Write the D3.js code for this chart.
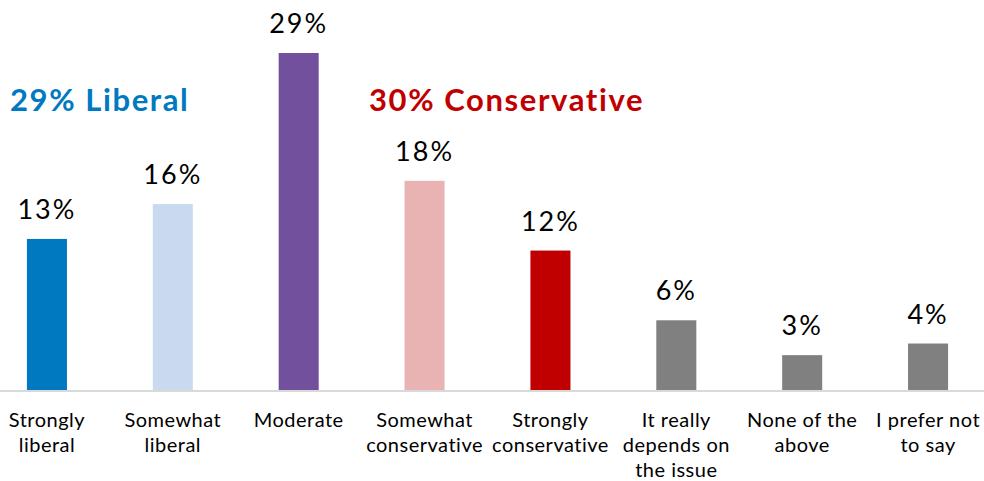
<!DOCTYPE html>
<html>
<head>
<meta charset="utf-8">
<script src="https://cdnjs.cloudflare.com/ajax/libs/d3/7.8.5/d3.min.js"></script>
<style>
  html, body { margin: 0; padding: 0; background: #fff; }
  svg { display: block; }
  text { font-family: Lato, "Open Sans", sans-serif; }
</style>
</head>
<body>
<svg id="chart" width="984" height="481"></svg>
<script>
// Political self-identification, share of respondents (%)
const categories = [
  "Strongly liberal", "Somewhat liberal", "Moderate", "Somewhat conservative",
  "Strongly conservative", "It really depends on the issue", "None of the above", "I prefer not to say"
];
const tickLines = [
  ["Strongly", "liberal"],
  ["Somewhat", "liberal"],
  ["Moderate"],
  ["Somewhat", "conservative"],
  ["Strongly", "conservative"],
  ["It really", "depends on", "the issue"],
  ["None of the", "above"],
  ["I prefer not", "to say"]
];
const values = [13, 16, 29, 18, 12, 6, 3, 4];
const barColors = ["#0079C1", "#C9DAF0", "#72509E", "#E9B3B3", "#C00000", "#808080", "#808080", "#808080"];
const groupLabels = [
  { text: "29% Liberal", color: "#0079C1" },
  { text: "30% Conservative", color: "#C00000" }
];

const svg = d3.select("#chart");
const baseY = 390;

const x = d3.scaleBand()
  .domain(categories)
  .range([-16, 991])
  .paddingInner(0.682)
  .paddingOuter(0.341);

const y = d3.scaleLinear()
  .domain([0, 29])
  .range([baseY, 53]);

// bars
svg.append("g").selectAll("rect")
  .data(values)
  .join("rect")
  .attr("x", (d, i) => x(categories[i]))
  .attr("y", d => y(d))
  .attr("width", x.bandwidth())
  .attr("height", d => baseY - y(d))
  .attr("fill", (d, i) => barColors[i]);

// value labels
svg.append("g").selectAll("text")
  .data(values)
  .join("text")
  .attr("x", (d, i) => x(categories[i]) + x.bandwidth() / 2)
  .attr("y", d => y(d) - 20)
  .attr("text-anchor", "middle")
  .attr("font-size", 27)
  .attr("letter-spacing", 2)
  .attr("fill", "#000")
  .text(d => d + "%");

// category axis
const axis = svg.append("g")
  .attr("transform", `translate(0,${baseY + 1})`)
  .call(d3.axisBottom(x).tickSize(0).tickPadding(0));
axis.select(".domain").remove();
axis.append("line")
  .attr("x1", 0).attr("x2", 984)
  .attr("y1", 0).attr("y2", 0)
  .attr("stroke", "#D9D9D9")
  .attr("stroke-width", 2);
axis.selectAll(".tick text").each(function (d) {
  const t = d3.select(this);
  const lines = tickLines[categories.indexOf(d)];
  t.text(null)
    .attr("y", 0)
    .attr("dy", null)
    .attr("font-size", 20)
    .attr("letter-spacing", 0.5)
    .attr("font-family", "Lato, 'Open Sans', sans-serif")
    .attr("fill", "#000");
  lines.forEach((ln, k) => {
    t.append("tspan").attr("x", 0).attr("y", 36 + k * 25).text(ln);
  });
});

// group headings
const headX = [10, 369];
svg.append("g").selectAll("text")
  .data(groupLabels)
  .join("text")
  .attr("x", (d, i) => headX[i])
  .attr("y", 111)
  .attr("font-size", 31)
  .attr("font-weight", "bold")
  .attr("letter-spacing", 1.6)
  .attr("fill", d => d.color)
  .text(d => d.text);
</script>
</body>
</html>
